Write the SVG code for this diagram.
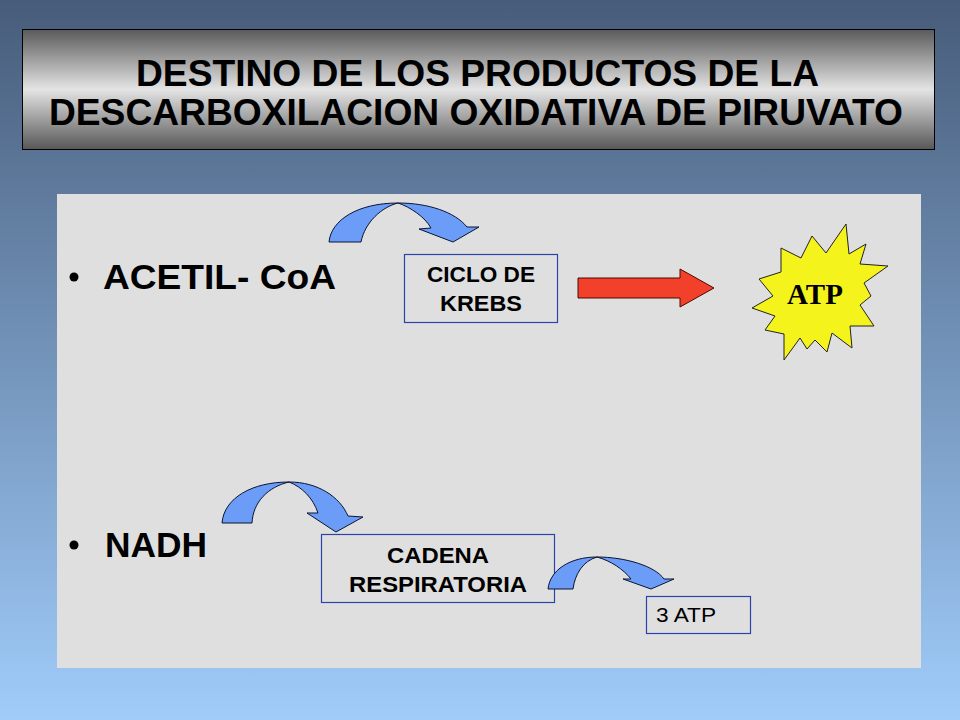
<svg xmlns="http://www.w3.org/2000/svg" width="960" height="720" viewBox="0 0 960 720">
  <defs>
    <linearGradient id="bg" x1="0" y1="0" x2="0" y2="1">
      <stop offset="0" stop-color="#475c7a"/>
      <stop offset="1" stop-color="#a0ccfa"/>
    </linearGradient>
    <linearGradient id="titleFill" x1="0" y1="0" x2="0" y2="1">
      <stop offset="0" stop-color="#5a5a5a"/>
      <stop offset="0.5" stop-color="#e4e4e4"/>
      <stop offset="1" stop-color="#575757"/>
    </linearGradient>
    <style>
      .title { font-family: "Liberation Sans", Arial, sans-serif; font-weight: bold; font-size: 36px; fill: #000; }
      .bullet { font-family: "Liberation Sans", Arial, sans-serif; font-weight: bold; font-size: 35px; fill: #000; }
      .box { fill: none; stroke: #2a44a8; stroke-width: 1.2; }
      .boxtext { font-family: "Liberation Sans", Arial, sans-serif; font-weight: bold; font-size: 22px; fill: #000; text-anchor: middle; }
      .plain { font-family: "Liberation Sans", Arial, sans-serif; font-size: 21px; fill: #000; }
      .curved { fill: #6a9cf8; stroke: #0a1433; stroke-width: 1; stroke-linejoin: round; }
      .red { fill: #f2402a; stroke: #4a0a00; stroke-width: 1; }
      .star { fill: #f4f41c; stroke: #222; stroke-width: 1; stroke-linejoin: miter; }
      .atp { font-family: "Liberation Serif", "Times New Roman", serif; font-weight: bold; font-size: 29px; fill: #000; text-anchor: middle; }
    </style>
  </defs>

  <rect x="0" y="0" width="960" height="720" fill="url(#bg)"/>

  <g id="title">
    <rect x="22.5" y="29.5" width="912" height="120" fill="url(#titleFill)" stroke="#000" stroke-width="1"/>
    <text class="title" x="136" y="86" textLength="683" lengthAdjust="spacingAndGlyphs">DESTINO DE LOS PRODUCTOS DE LA</text>
    <text class="title" x="49" y="125" textLength="854" lengthAdjust="spacingAndGlyphs">DESCARBOXILACION OXIDATIVA DE PIRUVATO</text>
  </g>

  <rect id="panel" x="57" y="194" width="864" height="474" fill="#dfdfdf"/>

  <g id="acetil">
    <circle cx="74" cy="277" r="4.5" fill="#000"/>
    <text class="bullet" x="103" y="289" textLength="233" lengthAdjust="spacingAndGlyphs">ACETIL- CoA</text>
  </g>

  <g id="nadh">
    <circle cx="74" cy="545" r="4.5" fill="#000"/>
    <text class="bullet" x="105" y="557" textLength="102" lengthAdjust="spacingAndGlyphs">NADH</text>
  </g>

  <g id="krebs">
    <rect class="box" x="404.5" y="254.5" width="153" height="68"/>
    <text class="boxtext" x="481" y="282" textLength="108" lengthAdjust="spacingAndGlyphs">CICLO DE</text>
    <text class="boxtext" x="481" y="311" textLength="82" lengthAdjust="spacingAndGlyphs">KREBS</text>
  </g>

  <g id="cadena">
    <rect class="box" x="321.5" y="534.5" width="233" height="68"/>
    <text class="boxtext" x="438" y="563" textLength="102" lengthAdjust="spacingAndGlyphs">CADENA</text>
    <text class="boxtext" x="438" y="592" textLength="178" lengthAdjust="spacingAndGlyphs">RESPIRATORIA</text>
  </g>

  <g id="atp3">
    <rect class="box" x="646.5" y="596.5" width="104" height="37"/>
    <text class="plain" x="656" y="622" textLength="60" lengthAdjust="spacingAndGlyphs">3 ATP</text>
  </g>

  <g id="atp-star">
    <polygon class="star" points="846,224 849,254 866,244 860,264 888,266 864,283 871,296 860,305 874,326 850,326 852,348 832,333 827,352 815,340 807,349 800,338 784,360 784,334 765,330 775,316 752,308 773,296 759,279 781,272 781,248 801,258 812,236 826,253"/>
    <text class="atp" x="815" y="304">ATP</text>
  </g>

  <g id="connectors">
    <path class="curved" d="M329,242 C331,220 358,203 398,203 C428,203 455,212 467,227 L479,227 L453,242 L419,229 L431,228 C425,217 410,207 398,203 C382,207 365,222 361,242 Z"/>
    <path class="curved" d="M222,523 C224,498 252,482 289,482 C318,482 340,497 348,516 L363,517 L336,532 L307,513 L318,513 C313,498 302,487 289,482 C268,487 253,502 252,523 Z"/>
    <path class="curved" d="M548,589 C550,570 570,557 597,557 C625,557 655,566 664,579 L674,579 L651,589 L623,579 L631,579 C623,569 611,561 597,557 C583,561 575,574 573,589 Z"/>
    <polygon class="red" points="578,278 680,278 680,269 714,288 680,307 680,298 578,298"/>
  </g>
</svg>
